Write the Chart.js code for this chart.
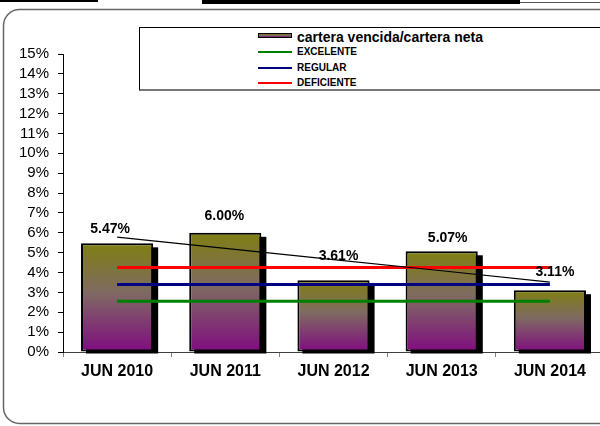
<!DOCTYPE html>
<html>
<head>
<meta charset="utf-8">
<script src="https://cdn.jsdelivr.net/npm/chart.js@4/dist/chart.umd.min.js"></script>
<style>
  body { margin: 0; width: 600px; height: 426px; overflow: hidden; position: relative; background: #fff;
         font-family: Arial, "Liberation Sans", sans-serif; }
  .raya { position: absolute; background: #000; }
  #grafica { position: absolute; left: 0; top: 0; }
  #leyenda { position: absolute; left: 139px; top: 27px; width: 480px; height: 61px; background: #fff;
             border-top: 1px solid #000; border-left: 1px solid #000; border-bottom: 2px solid #777; }
  .item { position: absolute; left: 118px; white-space: nowrap; font-weight: bold; color: #000; }
  .muestra { position: absolute; left: 0; width: 34px; }
  .item span { position: absolute; left: 39px; }
</style>
</head>
<body>
<div class="raya" style="left:0;top:0;width:98px;height:2px"></div>
<div class="raya" style="left:202px;top:0;width:318px;height:4px"></div>
<div class="raya" style="left:520px;top:2px;width:80px;height:1px;background:#555"></div>
<canvas id="grafica" width="604" height="426"></canvas>
<div id="leyenda">
  <div class="item" style="top:1px;font-size:14px;height:17px">
    <div class="muestra" style="top:4px;height:3px;border:1px solid #000;width:32px;background:linear-gradient(#807a20,#7a6a60,#801480)"></div>
    <span style="top:0">cartera vencida/cartera neta</span>
  </div>
  <div class="item" style="top:18px;font-size:10px;height:12px">
    <div class="muestra" style="top:5px;height:2px;background:#008000"></div>
    <span style="top:0">EXCELENTE</span>
  </div>
  <div class="item" style="top:34px;font-size:10px;height:12px">
    <div class="muestra" style="top:5px;height:2px;background:#000080"></div>
    <span style="top:0">REGULAR</span>
  </div>
  <div class="item" style="top:49px;font-size:10px;height:12px">
    <div class="muestra" style="top:5px;height:2px;background:#ff0000"></div>
    <span style="top:0">DEFICIENTE</span>
  </div>
</div>
<script>
// datos
const categorias = ["JUN 2010", "JUN 2011", "JUN 2012", "JUN 2013", "JUN 2014"];
const cartera = [5.47, 6.00, 3.61, 5.07, 3.11];
const excelente = [2.55, 2.55, 2.55, 2.55, 2.55];
const regular = [3.40, 3.40, 3.40, 3.40, 3.40];
const deficiente = [4.25, 4.25, 4.25, 4.25, 4.25];
const tendencia = [5.78, 5.22, 4.65, 4.09, 3.52];
const etiquetasY = ["0%", "1%", "2%", "3%", "4%", "5%", "6%", "7%", "8%", "9%", "10%", "11%", "12%", "13%", "14%", "15%"];

// pequeños ajustes de las etiquetas de valor (como en el original)
const ajusteEtiquetas = [[-7, -14], [-1, -17], [5, -24], [6, -13], [5, -18]];

function degradado(c) {
    const chart = c.chart;
    const y = chart.scales.y;
    if (!y || c.raw === undefined) return "#806a50";
    const arriba = y.getPixelForValue(c.raw);
    const base = y.getPixelForValue(0);
    if (!isFinite(arriba) || !isFinite(base) || arriba === base) return "#806a50";
    const g = chart.ctx.createLinearGradient(0, arriba, 0, base);
    g.addColorStop(0, "#7f7f12");
    g.addColorStop(0.45, "#7f6a62");
    g.addColorStop(1, "#800c80");
    return g;
}

// marco redondeado de la grafica (se sale por la derecha como en el original)
const marco = {
    id: "marco",
    beforeDraw(chart) {
        const ctx = chart.ctx;
        ctx.save();
        ctx.strokeStyle = "#666";
        ctx.lineWidth = 1.5;
        ctx.beginPath();
        ctx.roundRect(3.5, 9.5, 640, 414, 16);
        ctx.stroke();
        ctx.restore();
    }
};

// sombra negra detras de cada barra
const sombra = {
    id: "sombra",
    beforeDatasetDraw(chart, args) {
        if (args.index !== 0) return;
        const ctx = chart.ctx;
        ctx.save();
        ctx.fillStyle = "#000";
        args.meta.data.forEach(function (b) {
            const p = b.getProps(["x", "y", "base", "width"], true);
            ctx.fillRect(p.x - p.width / 2 + 5, p.y + 4, p.width, p.base - p.y - 2);
        });
        ctx.restore();
    }
};

const etiquetas = {
    id: "etiquetas",
    afterDatasetsDraw(chart) {
        const ctx = chart.ctx;
        const meta = chart.getDatasetMeta(0);
        ctx.save();
        ctx.font = "bold 14px Arial, 'Liberation Sans'";
        ctx.fillStyle = "#000";
        ctx.textAlign = "center";
        ctx.textBaseline = "middle";
        meta.data.forEach(function (b, i) {
            const a = ajusteEtiquetas[i];
            ctx.fillText(cartera[i].toFixed(2) + "%", b.x + a[0], b.y + a[1]);
        });
        ctx.restore();
    }
};

const ctx = document.getElementById("grafica").getContext("2d");
const chart = new Chart(ctx, {
    data: {
        labels: categorias,
        datasets: [
            {
                type: "bar",
                label: "cartera vencida/cartera neta",
                data: cartera,
                backgroundColor: degradado,
                borderColor: "#000",
                borderWidth: 2,
                borderSkipped: false,
                barPercentage: 0.667,
                categoryPercentage: 1,
                order: 5
            },
            { type: "line", label: "EXCELENTE", data: excelente, borderColor: "#008000", borderWidth: 3, pointRadius: 0, order: 3 },
            { type: "line", label: "REGULAR", data: regular, borderColor: "#000080", borderWidth: 3, pointRadius: 0, order: 2 },
            { type: "line", label: "DEFICIENTE", data: deficiente, borderColor: "#ff0000", borderWidth: 3, pointRadius: 0, order: 1 },
            { type: "line", label: "tendencia", data: tendencia, borderColor: "#000", borderWidth: 1.2, pointRadius: 0, order: 0 }
        ]
    },
    options: {
        responsive: false,
        animation: false,
        layout: { padding: { top: 54, left: 0, right: 0, bottom: 0 } },
        plugins: { legend: { display: false }, tooltip: { enabled: false } },
        scales: {
            x: {
                type: "category",
                offset: true,
                grid: { drawOnChartArea: false, drawTicks: true, tickLength: 5, color: "#808080", offset: true },
                border: { display: true, color: "#404040", width: 1 },
                ticks: { color: "#000", padding: 5, maxRotation: 0, autoSkip: false,
                         font: { family: "Arial, 'Liberation Sans'", weight: "bold", size: 16 } },
                afterFit: function (s) { s.height = 74; }
            },
            y: {
                min: 0,
                max: 15,
                grid: { drawOnChartArea: false, drawTicks: true, tickLength: 5, color: "#000" },
                border: { display: true, color: "#000", width: 1 },
                ticks: { stepSize: 1, color: "#000", padding: 9, autoSkip: false,
                         font: { family: "Arial, 'Liberation Sans'", size: 15 },
                         callback: function (v, i) { return etiquetasY[i]; } },
                afterFit: function (s) { s.width = 63; }
            }
        }
    },
    plugins: [marco, sombra, etiquetas]
});
</script>
</body>
</html>
